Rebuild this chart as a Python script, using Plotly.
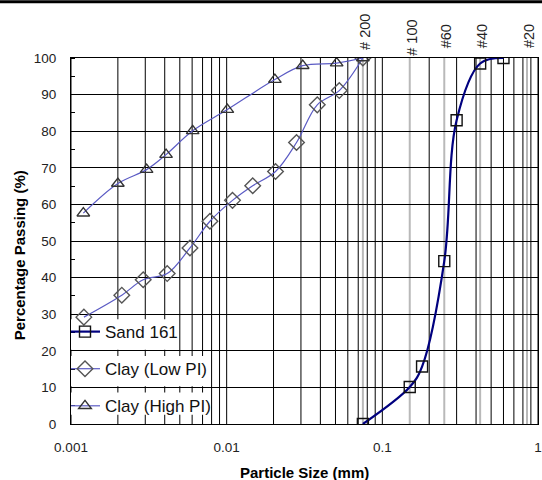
import math
import plotly.graph_objects as go

# Grain size distribution (particle size in mm, percent passing)
sand_size = [0.075, 0.15, 0.18, 0.25, 0.30, 0.425, 0.60]
sand_pass = [0.0, 10.1, 15.7, 44.5, 83.0, 98.5, 100.0]

low_size = [0.00121, 0.00212, 0.00291, 0.00415, 0.00581, 0.00781, 0.0109,
            0.0147, 0.0206, 0.0281, 0.0382, 0.0529, 0.075]
low_pass = [29.2, 35.2, 39.4, 41.1, 48.1, 55.4, 61.1, 65.1, 69.0, 76.9,
            87.2, 91.1, 100.0]

high_size = [0.0012, 0.0020, 0.00306, 0.00408, 0.00605, 0.0101, 0.0204,
             0.0308, 0.0509, 0.075]
high_pass = [57.6, 65.7, 69.5, 73.6, 80.1, 85.9, 94.1, 97.9, 98.6, 100.0]

# US standard sieve openings (mm)
sieve_labels = ["# 200", "# 100", "#60", "#40", "#20"]
sieve_sizes = [0.075, 0.15, 0.25, 0.425, 0.85]
sieve_label_lift = [6, 0, 8, 8, 8]

x_tick_vals = [0.001, 0.01, 0.1, 1]
x_tick_text = ["0.001", "0.01", "0.1", "1"]
y_tick_vals = [0, 10, 20, 30, 40, 50, 60, 70, 80, 90, 100]

FONT = "Liberation Sans, Arial, sans-serif"
TXT = "#222222"

# every 1..9 x 10^k line of the log grid
grid_vals = [m * 10.0 ** k for k in (-3, -2, -1) for m in range(1, 10)] + [1.0]

fig = go.Figure()

fig.add_trace(go.Scatter(
    x=sand_size, y=sand_pass, name="Sand 161", legendgroup="a",
    mode="lines+markers", line=dict(color="#00007f", width=2.2, shape="spline"),
    marker=dict(symbol="square-open", size=11, color="#111111",
                line=dict(width=1.4, color="#111111")),
))
fig.add_trace(go.Scatter(
    x=low_size, y=low_pass, name="Clay (Low PI)", legendgroup="b",
    mode="lines+markers", line=dict(color="#5b5bc4", width=1.2, shape="spline"),
    marker=dict(symbol="diamond-open", size=12, color="#555555",
                line=dict(width=1.4, color="#555555")),
))
fig.add_trace(go.Scatter(
    x=high_size, y=high_pass, name="Clay (High PI)", legendgroup="c",
    mode="lines+markers", line=dict(color="#5b5bc4", width=1.2, shape="spline"),
    marker=dict(symbol="triangle-up-open", size=11, color="#333333",
                line=dict(width=1.4, color="#333333")),
))

shapes = []
# vertical log grid (drawn as shapes so the legend backing can cover it)
for g in grid_vals:
    shapes.append(dict(type="line", xref="x", yref="paper", x0=g, x1=g,
                       y0=0, y1=1, line=dict(color="black", width=1),
                       layer="below"))
# sieve opening lines
for s in sieve_sizes:
    shapes.append(dict(type="line", xref="x", yref="paper", x0=s, x1=s,
                       y0=0, y1=1, line=dict(color="#b9b9b9", width=2),
                       layer="below"))
# white backing behind each legend entry
for x1, y0, y1 in [(0.00494, 20.3, 28.6), (0.0079, 10.3, 18.6), (0.0079, 2.5, 8.6)]:
    shapes.append(dict(type="rect", xref="x", yref="y", x0=0.001, x1=x1,
                       y0=y0, y1=y1, fillcolor="white", line=dict(width=0),
                       layer="below"))
# rule across the top of the page
shapes.append(dict(type="line", xref="paper", yref="paper",
                   x0=-71 / 467, x1=471 / 467, y0=1.1538, y1=1.1538,
                   line=dict(color="black", width=3)))

annotations = []
for lab, s, lift in zip(sieve_labels, sieve_sizes, sieve_label_lift):
    annotations.append(dict(x=math.log10(s), y=1, xref="x", yref="paper",
                            text=lab, textangle=-90, showarrow=False,
                            xanchor="center", yanchor="bottom",
                            xshift=2, yshift=lift,
                            font=dict(family=FONT, size=14.5, color=TXT)))
annotations.append(dict(x=0.5, y=-0.1325, xref="paper", yref="paper",
                        text="<b>Particle Size (mm)</b>", showarrow=False,
                        xanchor="center", yanchor="middle",
                        font=dict(family=FONT, size=15, color="black")))
annotations.append(dict(x=-0.1113, y=0.461, xref="paper", yref="paper",
                        text="<b>Percentage Passing (%)</b>", showarrow=False,
                        textangle=-90, xanchor="center", yanchor="middle",
                        font=dict(family=FONT, size=15, color="black")))

fig.update_layout(
    width=542, height=480,
    margin=dict(l=71, r=4, t=58, b=56, autoexpand=False),
    paper_bgcolor="white", plot_bgcolor="white",
    font=dict(family=FONT, color=TXT),
    shapes=shapes, annotations=annotations,
    showlegend=True,
    legend=dict(x=0.0, y=0.3004, xanchor="left", yanchor="top",
                bgcolor="rgba(0,0,0,0)", tracegroupgap=12, indentation=-6,
                font=dict(family=FONT, size=17, color="#111111")),
)
fig.update_xaxes(
    type="log", range=[-3, 0],
    tickvals=x_tick_vals, ticktext=x_tick_text, ticks="",
    ticklabelstandoff=11,
    tickfont=dict(family=FONT, size=13.5, color=TXT),
    showgrid=False,
    showline=True, linecolor="black", linewidth=1, mirror=True,
    zeroline=False,
)
fig.update_yaxes(
    range=[0, 100], tickvals=y_tick_vals, ticks="",
    ticklabelstandoff=11,
    tickfont=dict(family=FONT, size=13.5, color=TXT),
    showgrid=True, gridcolor="black", gridwidth=1,
    showline=True, linecolor="black", linewidth=1, mirror=True,
    zeroline=False,
    minor=dict(dtick=5, ticks="inside", ticklen=4, tickcolor="black",
               showgrid=False),
)

fig.write_html("out.html")
